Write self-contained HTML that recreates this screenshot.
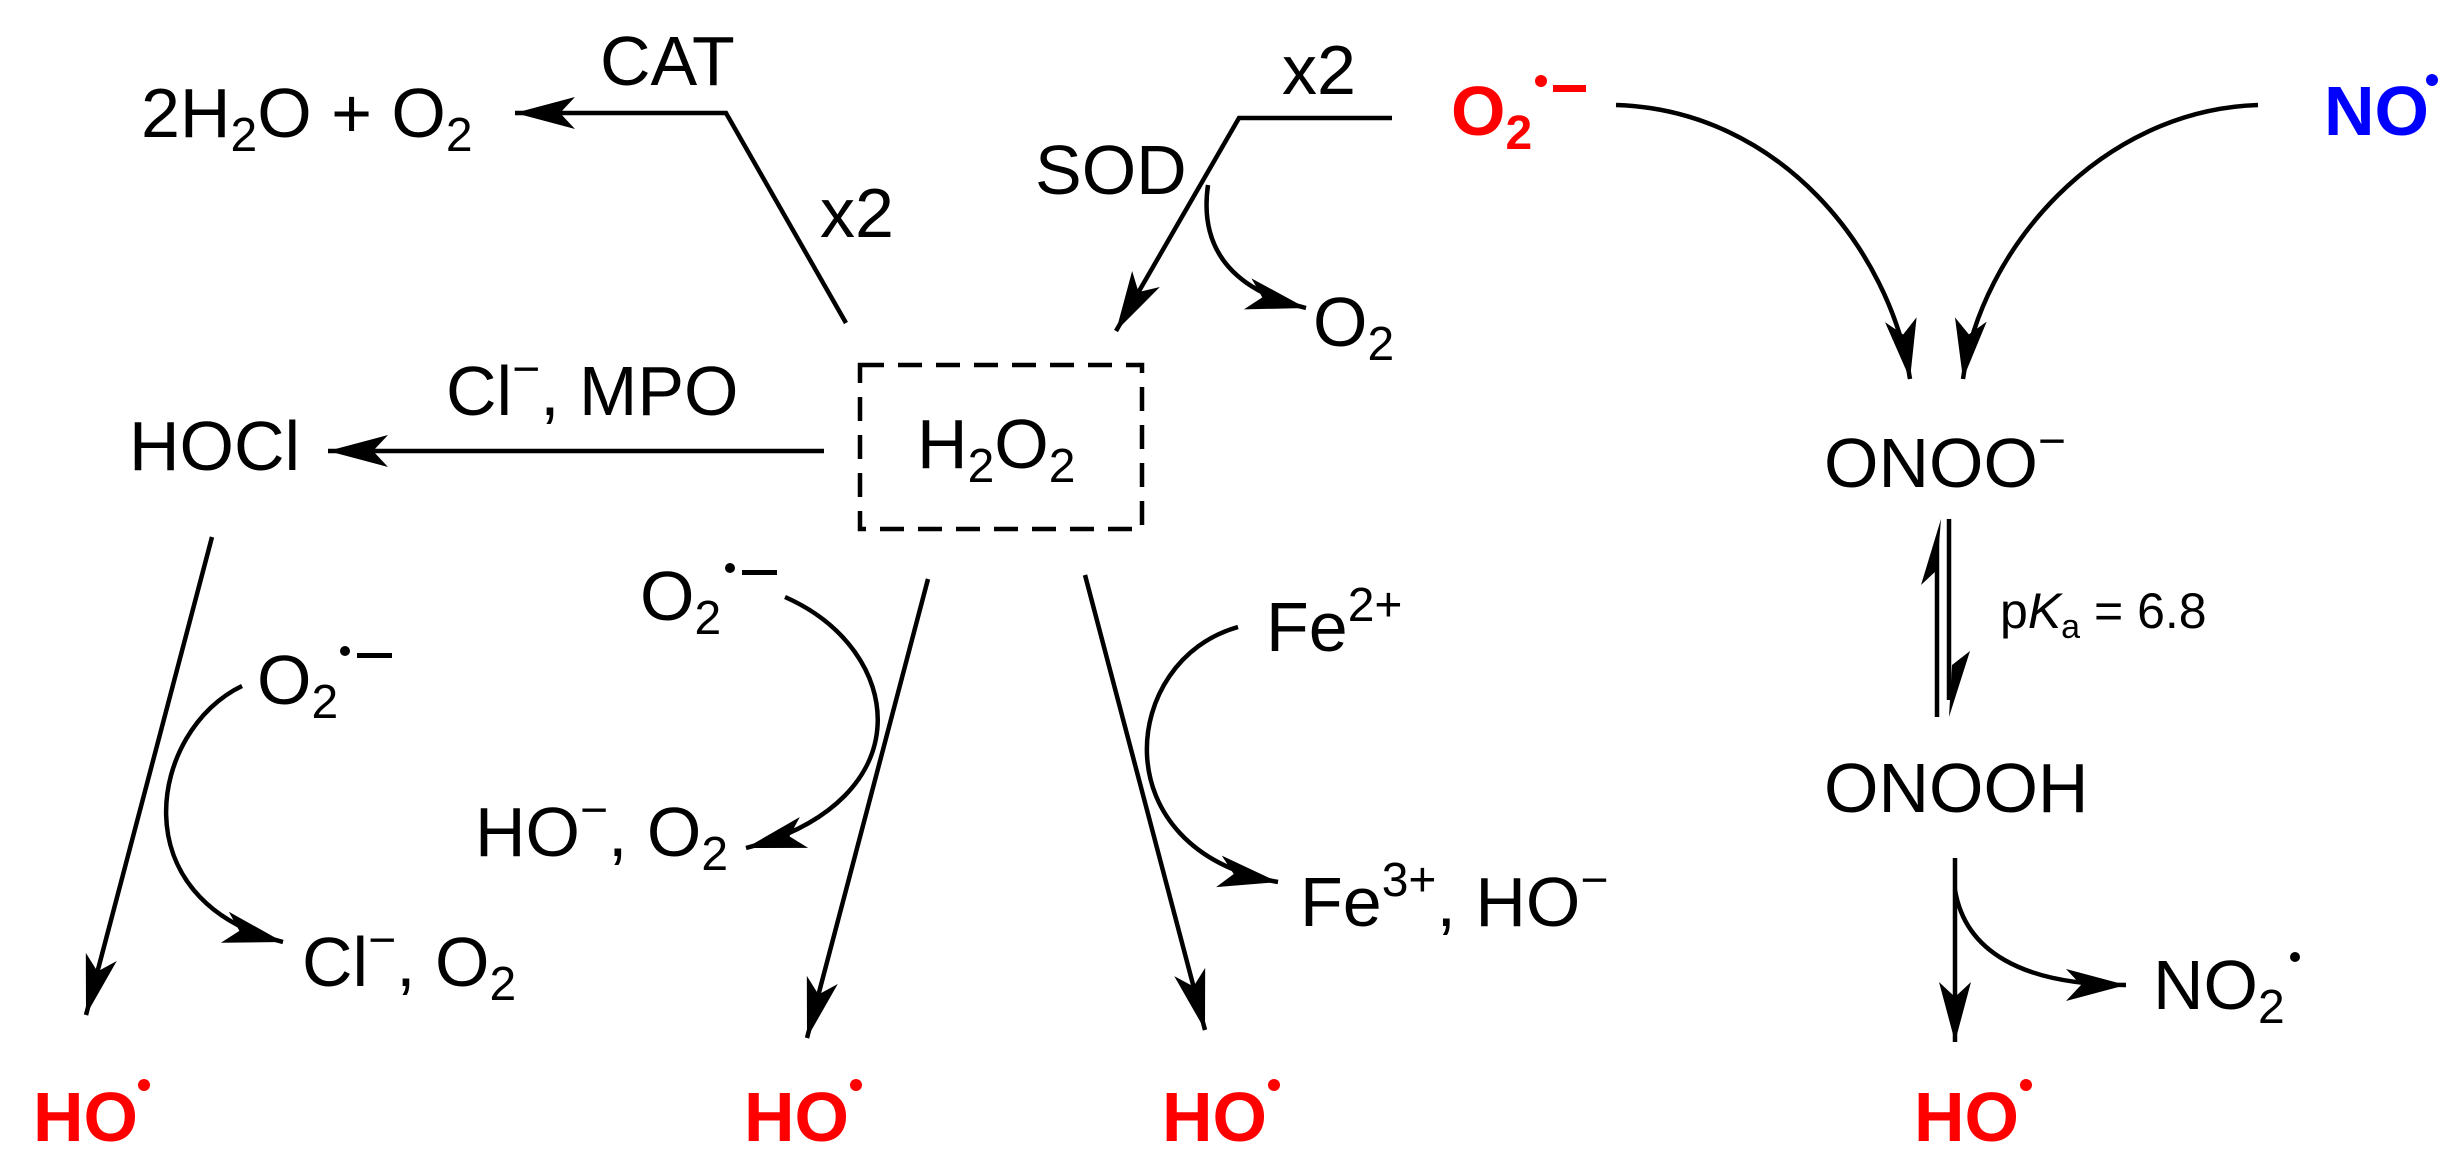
<!DOCTYPE html>
<html><head><meta charset="utf-8"><style>
html,body{margin:0;padding:0;background:#fff}
svg{display:block}
text{font-family:"Liberation Sans",Arial,sans-serif;font-size:70px;fill:#000}
.b{font-weight:bold}
.r{fill:#f00}
.bl{fill:#0000ff}
.s{font-size:48px}
</style></head><body>
<svg width="2462" height="1167" viewBox="0 0 2462 1167" xmlns="http://www.w3.org/2000/svg">
<defs>
<marker id="a" markerUnits="userSpaceOnUse" markerWidth="70" markerHeight="40" viewBox="-64 -20 70 40" refX="0" refY="0" orient="auto">
<path d="M0,0 L-60,-16 L-45,0 L-60,16z" fill="#000"/>
</marker>
</defs>
<g fill="none" stroke="#000" stroke-width="4.5">
<polyline points="846,323 726,113 515,113" marker-end="url(#a)"/>
<polyline points="1392,118 1239,118 1116,331" marker-end="url(#a)"/>
<path d="M1208,185 C1198,255 1240,292 1306,308" marker-end="url(#a)"/>
<path d="M1616,105 C1780,110 1890,250 1910,379" marker-end="url(#a)"/>
<path d="M2258,105 C2100,110 1980,250 1963,379" marker-end="url(#a)"/>
<line x1="824" y1="451" x2="328" y2="451" marker-end="url(#a)"/>
<rect x="860" y="365" width="282" height="164" stroke-dasharray="24 14"/>
<line x1="212" y1="537" x2="86" y2="1015" marker-end="url(#a)"/>
<path d="M242,686 C150,730 118,900 283,942" marker-end="url(#a)"/>
<line x1="928" y1="579" x2="807" y2="1038" marker-end="url(#a)"/>
<path d="M785,597 C905,650 925,800 746,848" marker-end="url(#a)"/>
<line x1="1085" y1="575" x2="1205" y2="1030" marker-end="url(#a)"/>
<path d="M1238,627 C1120,660 1100,850 1278,882" marker-end="url(#a)"/>
<line x1="1937" y1="717" x2="1937" y2="540"/>
<line x1="1949" y1="519" x2="1949" y2="700"/>
<line x1="1955" y1="858" x2="1955" y2="1042" marker-end="url(#a)"/>
<path d="M1955,890 C1965,950 2020,985 2126,985" marker-end="url(#a)"/>
</g>
<polygon points="1941,519 1921,585 1937,570" fill="#000"/>
<polygon points="1949,717 1970,651 1952,665" fill="#000"/>

<text x="141" y="137">2H<tspan class="s" dy="14">2</tspan><tspan dy="-14">O + O</tspan><tspan class="s" dy="14">2</tspan></text>
<text x="600" y="85">CAT</text>
<text x="820" y="237">x2</text>
<text x="1282" y="94">x2</text>
<text x="1035" y="194">SOD</text>
<text x="1313" y="346">O<tspan class="s" dy="14">2</tspan></text>

<text x="1451" y="135" class="b r">O<tspan class="s" dy="14">2</tspan></text>
<circle cx="1541" cy="81" r="6" fill="#f00"/>
<rect x="1553" y="85" width="33" height="7" fill="#f00"/>
<text x="2324" y="135" class="b bl">NO</text>
<circle cx="2432" cy="80" r="6" fill="#0000ff"/>

<text x="446" y="415">Cl<tspan class="s" dy="-30">−</tspan><tspan dy="30">, MPO</tspan></text>
<text x="129" y="470">HOCl</text>
<text x="917" y="468">H<tspan class="s" dy="14">2</tspan><tspan dy="-14">O</tspan><tspan class="s" dy="14">2</tspan></text>

<text x="1824" y="487">ONOO<tspan class="s" dy="-30">−</tspan></text>
<text x="2000" y="628" style="font-size:50px">p<tspan font-style="italic">K</tspan><tspan style="font-size:34px" dy="10">a</tspan><tspan dy="-10"> = 6.8</tspan></text>
<text x="1824" y="812">ONOOH</text>
<text x="2153" y="1009">NO<tspan class="s" dy="14">2</tspan></text>
<circle cx="2295" cy="957" r="5" fill="#000"/>

<text x="1266" y="651">Fe<tspan class="s" dy="-30">2+</tspan></text>
<text x="1300" y="926">Fe<tspan class="s" dy="-30">3+</tspan><tspan dy="30">, HO</tspan><tspan class="s" dy="-30">−</tspan></text>

<text x="257" y="704">O<tspan class="s" dy="14">2</tspan></text>
<circle cx="345" cy="651" r="5" fill="#000"/>
<rect x="357" y="653" width="35" height="5" fill="#000"/>
<text x="302" y="986">Cl<tspan class="s" dy="-30">−</tspan><tspan dy="30">, O</tspan><tspan class="s" dy="14">2</tspan></text>

<text x="640" y="620">O<tspan class="s" dy="14">2</tspan></text>
<circle cx="730" cy="568" r="5" fill="#000"/>
<rect x="742" y="570" width="35" height="5" fill="#000"/>
<text x="475" y="856">HO<tspan class="s" dy="-30">−</tspan><tspan dy="30">, O</tspan><tspan class="s" dy="14">2</tspan></text>

<text x="33" y="1141" class="b r">HO</text>
<circle cx="144" cy="1085" r="6" fill="#f00"/>
<text x="744" y="1141" class="b r">HO</text>
<circle cx="856" cy="1085" r="6" fill="#f00"/>
<text x="1162" y="1141" class="b r">HO</text>
<circle cx="1274" cy="1085" r="6" fill="#f00"/>
<text x="1914" y="1141" class="b r">HO</text>
<circle cx="2026" cy="1085" r="6" fill="#f00"/>
</svg>
</body></html>
